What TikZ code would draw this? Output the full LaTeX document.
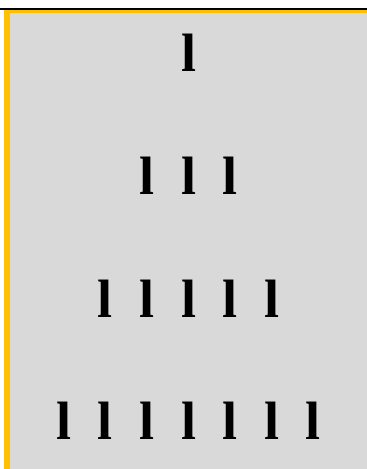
\documentclass[tikz,border=0pt]{standalone}
\usepackage{fontspec}
\setmainfont{Liberation Serif}
\usepackage{xcolor}
\usepackage{tikz}
\definecolor{goldc}{HTML}{FFC000}
\definecolor{panel}{HTML}{D9D9D9}

\begin{document}
\begin{tikzpicture}[
  x=1pt, y=-1pt,
  glyph/.style ={font=\fontsize{54}{54}\selectfont\bfseries, inner sep=0pt, anchor=center},
  rim/.style   ={fill=goldc, draw=none}
]
\useasboundingbox (0,0) rectangle (367,469);
% ---------- frame ----------
\fill[panel] (10,12) rectangle (367,469);
\fill[rim] (4,10) rectangle (367,12.5);
\fill[rim] (4,10) rectangle (10,469);
\fill[black] (0,7.8) rectangle (367,10);

% ---------- rows of glyphs ----------
\foreach \r/\n in {0/1,1/3,2/5,3/7}{
  \foreach \c in {1,...,\n}{
    \node[glyph] (g\r\c) at ({188.5+41.5*(\c-(\n+1)/2)}, {53+122.7*\r}) {l};
  }
}
\end{tikzpicture}
\end{document}
